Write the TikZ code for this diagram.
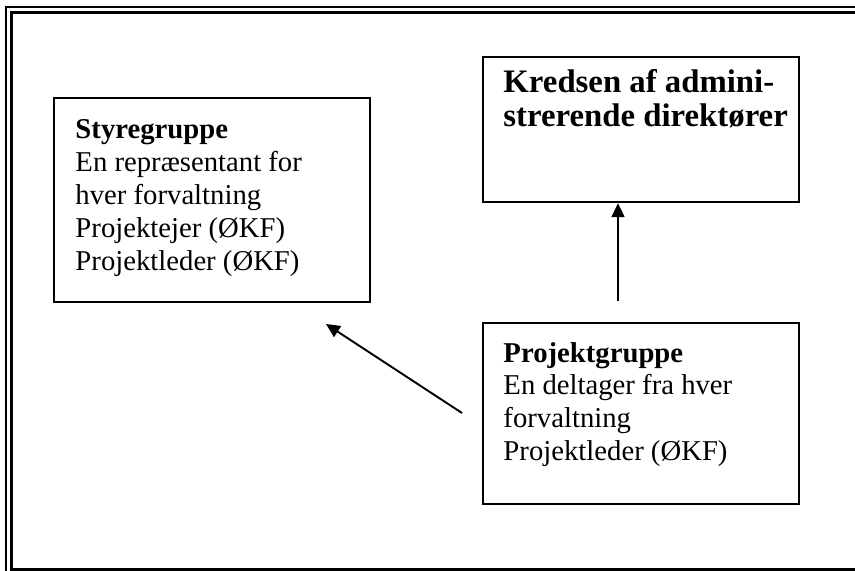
\documentclass[tikz,border=0pt]{standalone}
\usepackage{fontspec}
\setmainfont{Liberation Serif}
\usetikzlibrary{arrows.meta}
\tikzset{
  box/.style={draw, line width=1pt, inner sep=0pt},
  boxtext/.style={anchor=base west, inner sep=0pt, align=left, font=\fontsize{12}{13.7}\selectfont},
  arr/.style={-{Triangle[length=5.8pt,width=5.4pt]}, line width=0.8pt}
}
\begin{document}
\begin{tikzpicture}[x=0.418pt, y=-0.418pt]
                \useasboundingbox (0,0) rectangle (855,570);
                \clip (0,0) rectangle (855,570);
                \draw [line width=0.85pt] (6,7) rectangle (868,576);
                \draw [line width=1.25pt] (11.5,12.5) rectangle (862,569.5);
                \node [box, minimum width={316*0.418pt}, minimum height={204*0.418pt}] (styre) at (212,200) {};
                \node [box, minimum width={316*0.418pt}, minimum height={145*0.418pt}] (kreds) at (641,129.5) {};
                \node [box, minimum width={316*0.418pt}, minimum height={181*0.418pt}] (projekt) at (641,413.5) {};
                \node [boxtext] (styretxt) at (75,270) {\textbf{Styregruppe}\\En repræsentant for\\hver forvaltning\\Projektejer (ØKF)\\Projektleder (ØKF)};
                \node [boxtext, font=\fontsize{13.7}{13.9}\selectfont\bfseries] (kredstxt) at (503,126) {Kredsen af admini-\\strerende direktører};
                \node [boxtext] (projekttxt) at (503,460.5) {\textbf{Projektgruppe}\\En deltager fra hver\\forvaltning\\Projektleder (ØKF)};
                \coordinate (p1) at (618,301);
                \coordinate (p2) at (462,413);
                \coordinate (s2) at (326,324);
                \draw [arr] (p1) -- (p1 |- kreds.south);
                \draw [arr] (p2) -- (s2);
\end{tikzpicture}
\end{document}
